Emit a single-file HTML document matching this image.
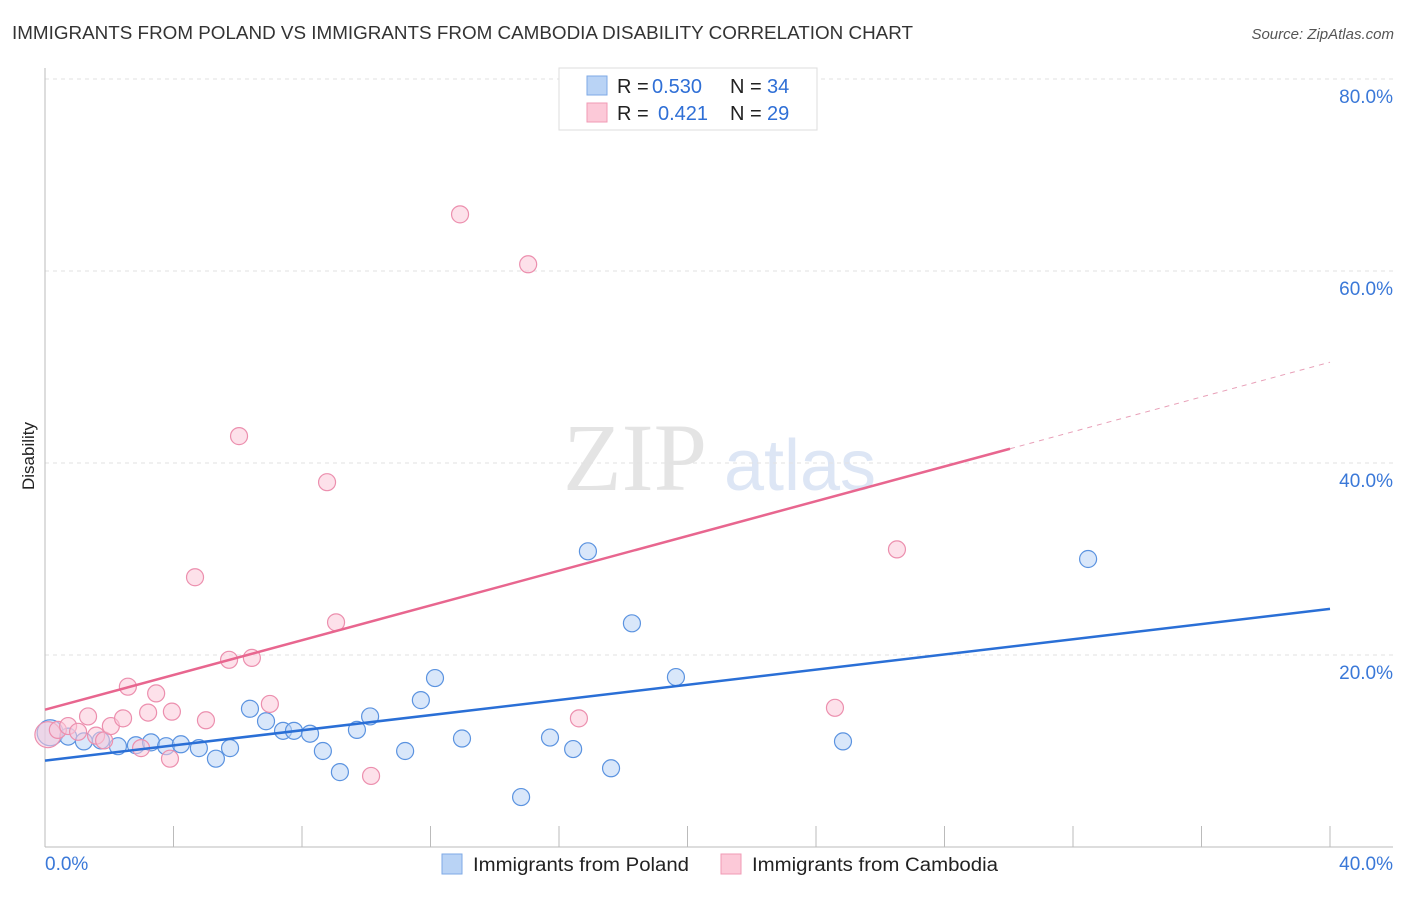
<!DOCTYPE html>
<html><head><meta charset="utf-8"><style>
body{margin:0;background:#fff;font-family:"Liberation Sans",sans-serif;}
</style></head><body>
<svg width="1406" height="892" xmlns="http://www.w3.org/2000/svg" style="font-family:'Liberation Sans',sans-serif">
<text x="12" y="39" font-size="18" fill="#333" textLength="901" lengthAdjust="spacingAndGlyphs">IMMIGRANTS FROM POLAND VS IMMIGRANTS FROM CAMBODIA DISABILITY CORRELATION CHART</text>
<text x="1394" y="39" font-size="15" fill="#555" font-style="italic" text-anchor="end">Source: ZipAtlas.com</text>
<text x="34" y="456" font-size="17" fill="#222" text-anchor="middle" transform="rotate(-90 34 456)">Disability</text>
<g><text x="635" y="490" font-size="96" fill="#e4e4e4" font-family="Liberation Serif" text-anchor="middle">ZIP</text><text x="800" y="490" font-size="72" fill="#dde6f5" text-anchor="middle">atlas</text></g>
<g id="grid"></g><g id="axes"></g><g id="marks"></g>
<g>
<rect x="559" y="68" width="258" height="62" fill="#fff" stroke="#ddd"/>
<rect x="587" y="76" width="20" height="19" fill="#b9d3f5" stroke="#7eaae6"/>
<rect x="587" y="103" width="20" height="19" fill="#fcc9d8" stroke="#f09ab5"/>
<text x="617" y="93" font-size="20" fill="#222">R = <tspan x="652" fill="#2f6fd6">0.530</tspan><tspan x="730">N = </tspan><tspan x="767" fill="#2f6fd6">34</tspan></text>
<text x="617" y="120" font-size="20" fill="#222">R = <tspan x="658" fill="#2f6fd6">0.421</tspan><tspan x="730">N = </tspan><tspan x="767" fill="#2f6fd6">29</tspan></text>
</g>
<g>
<rect x="442" y="854" width="20" height="20" fill="#b9d3f5" stroke="#7eaae6"/>
<text x="473" y="871" font-size="19" fill="#222" textLength="216" lengthAdjust="spacingAndGlyphs">Immigrants from Poland</text>
<rect x="721" y="854" width="20" height="20" fill="#fcc9d8" stroke="#f09ab5"/>
<text x="752" y="871" font-size="19" fill="#222" textLength="246" lengthAdjust="spacingAndGlyphs">Immigrants from Cambodia</text>
</g>
</svg>
<script>
const yTicks=[20,40,60,80];
const xTickLabels=["0.0%","40.0%"];
const polandX=[0.16,0.72,1.21,1.74,2.27,2.83,3.30,3.77,4.23,4.79,5.32,5.76,6.38,6.88,7.41,7.75,8.25,8.65,9.18,9.71,10.12,11.21,11.70,12.14,12.98,14.82,15.72,16.44,16.90,17.62,18.27,19.64,24.84,32.47];
const polandY=[11.9,11.5,11.0,11.1,10.5,10.6,10.9,10.5,10.7,10.3,9.2,10.3,14.4,13.1,12.1,12.1,11.8,10.0,7.8,12.2,13.6,10.0,15.3,17.6,11.3,5.2,11.4,10.2,30.8,8.2,23.3,17.7,11.0,30.0];
const cambodiaX=[0.09,0.40,0.72,1.03,1.34,1.59,1.84,2.05,2.43,2.58,2.99,3.21,3.46,3.89,3.95,4.67,5.01,5.73,6.04,6.44,7.00,8.78,9.06,10.15,12.92,15.04,16.62,24.59,26.52];
const cambodiaY=[11.7,12.2,12.6,12.0,13.6,11.6,11.1,12.6,13.4,16.7,10.3,14.0,16.0,9.2,14.1,28.1,13.2,19.5,42.8,19.7,14.9,38.0,23.4,7.4,65.9,60.7,13.4,14.5,31.0];
const polandTrend=[9.0,24.8];
const cambodiaTrend=[14.3,50.5];
const cambodiaSolidEnd=30.04;
const NS="http://www.w3.org/2000/svg";
const X=v=>45+v*32.125, Y=v=>847-v*9.6;
function mk(t,a,p){const e=document.createElementNS(NS,t);for(const k in a)e.setAttribute(k,a[k]);p.appendChild(e);return e;}
const grid=document.getElementById('grid'),axes=document.getElementById('axes'),marks=document.getElementById('marks');
yTicks.forEach(t=>{
 const l=mk('line',{x1:45,x2:1393,y1:Y(t),y2:Y(t),stroke:'#e2e2e2','stroke-dasharray':'4 4'},grid);
 
 
 const tx=mk('text',{x:1393,y:Y(t)+24,'font-size':19,fill:'#3a78d8','text-anchor':'end'},axes);
 tx.textContent=t.toFixed(1)+'%';
 
 
});
mk('line',{x1:45,x2:45,y1:68,y2:847,stroke:'#bbb'},axes);
mk('line',{x1:45,x2:1393,y1:847,y2:847,stroke:'#bbb'},axes);
for(let i=0;i<=40;i+=4){const t=mk('line',{x1:X(i),x2:X(i),y1:826,y2:847,stroke:'#bbb'},axes);
 
 }
const xl0=mk('text',{x:45,y:870,'font-size':19,fill:'#3a78d8'},axes);xl0.textContent=xTickLabels[0];


const xl1=mk('text',{x:1393,y:870,'font-size':19,fill:'#3a78d8','text-anchor':'end'},axes);xl1.textContent=xTickLabels[1];


function dots(xs,ys,fill,stroke,name){xs.forEach((x,i)=>{
 const c=mk('circle',{cx:X(x),cy:Y(ys[i]),r:i===0?13:8.5,fill:fill,'fill-opacity':0.55,stroke:stroke,'stroke-width':1.2},marks);
 
 });}
dots(polandX,polandY,'#b9d3f5','#5b93e0','point-poland');
dots(cambodiaX,cambodiaY,'#fcc9d8','#ec8fae','point-cambodia');
const pl=mk('line',{x1:X(0),y1:Y(polandTrend[0]),x2:X(40),y2:Y(polandTrend[1]),stroke:'#2a6fd6','stroke-width':2.5},marks);


const cy=v=>cambodiaTrend[0]+(cambodiaTrend[1]-cambodiaTrend[0])*v/40;
const cl=mk('line',{x1:X(0),y1:Y(cy(0)),x2:X(cambodiaSolidEnd),y2:Y(cy(cambodiaSolidEnd)),stroke:'#e8668f','stroke-width':2.5},marks);


const cd=mk('line',{x1:X(cambodiaSolidEnd),y1:Y(cy(cambodiaSolidEnd)),x2:X(40),y2:Y(cy(40)),stroke:'#e8a0b8','stroke-width':1,'stroke-dasharray':'5 5'},marks);


</script>
</body></html>
